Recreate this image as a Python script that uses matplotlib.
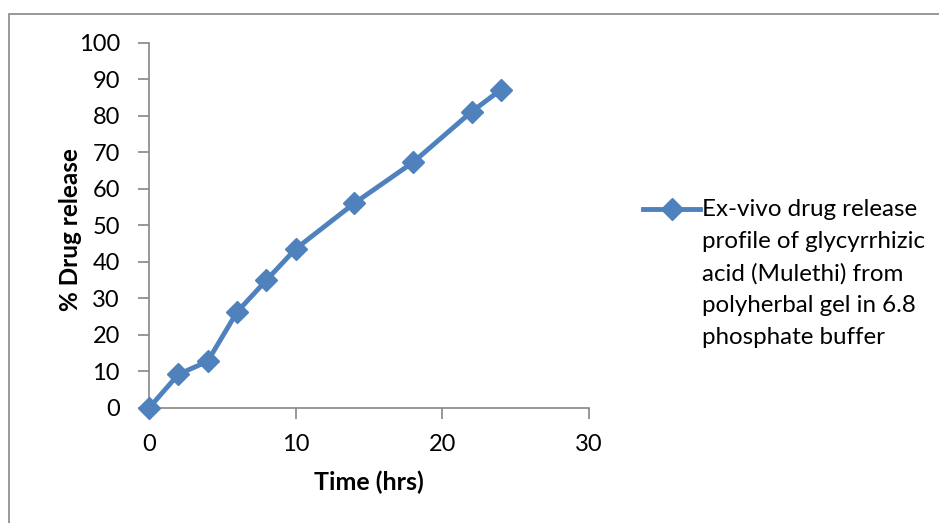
import matplotlib
matplotlib.use("Agg")
import matplotlib.pyplot as plt
from matplotlib.lines import Line2D
from matplotlib.patches import Rectangle

# release profile, sampling times in hours
time_hrs = [0, 2, 4, 6, 8, 10, 14, 18, 22, 24]
release_pct = [0, 9.2, 12.8, 26.3, 35.0, 43.6, 56.1, 67.3, 81.2, 87.2]
series_label = ("Ex-vivo drug release\nprofile of glycyrrhizic\nacid (Mulethi) from\n"
                "polyherbal gel in 6.8\nphosphate buffer")

blue = "#4F81BD"
axis_grey = "#868686"
plt.rcParams["font.family"] = ["Lato", "DejaVu Sans"]

fig = plt.figure(figsize=(9.39, 5.23), dpi=100)
ax = fig.add_axes([0.1587, 0.2199, 0.4686, 0.6979])

ax.plot(time_hrs, release_pct, color=blue, lw=3.5, marker="D", ms=11,
        markeredgecolor=blue, clip_on=False, zorder=3)

ax.set_xlim(0, 30)
ax.set_ylim(0, 100)
ax.set_xticks(range(0, 31, 10))
ax.set_yticks(range(0, 101, 10))
for side in ("top", "right"):
    ax.spines[side].set_visible(False)
for side in ("left", "bottom"):
    ax.spines[side].set_color(axis_grey)
    ax.spines[side].set_linewidth(1.2)
ax.tick_params(axis="both", colors=axis_grey, labelcolor="black",
               labelsize=17, length=8, width=1.2)
ax.tick_params(axis="y", pad=13)
ax.tick_params(axis="x", pad=11)

ax.set_xlabel("Time (hrs)", fontsize=18, fontweight="bold", va="top")
ax.set_ylabel("% Drug release", fontsize=17.5, fontweight="bold")
ax.xaxis.set_label_coords(0.5, -0.172)
ax.yaxis.set_label_coords(-0.152, 0.49)

# legend entry drawn by hand so the key sits beside the first text line
key_y = 1 - 209 / 523
fig.add_artist(Line2D([643 / 939, 700 / 939], [key_y, key_y], color=blue, lw=3.5))
fig.add_artist(Line2D([671.5 / 939], [key_y], color=blue, marker="D", ms=11, lw=0))
fig.text(702 / 939, 1 - 199 / 523, series_label, fontsize=17.4, va="top", ha="left",
         linespacing=1.64)

# chart frame
fig.add_artist(Rectangle((9 / 939, -0.1), 1.2, 1 - 14 / 523 + 0.1,
                         transform=fig.transFigure, fill=False,
                         edgecolor="#888888", lw=1.2))

fig.savefig("out.png", dpi=100)
